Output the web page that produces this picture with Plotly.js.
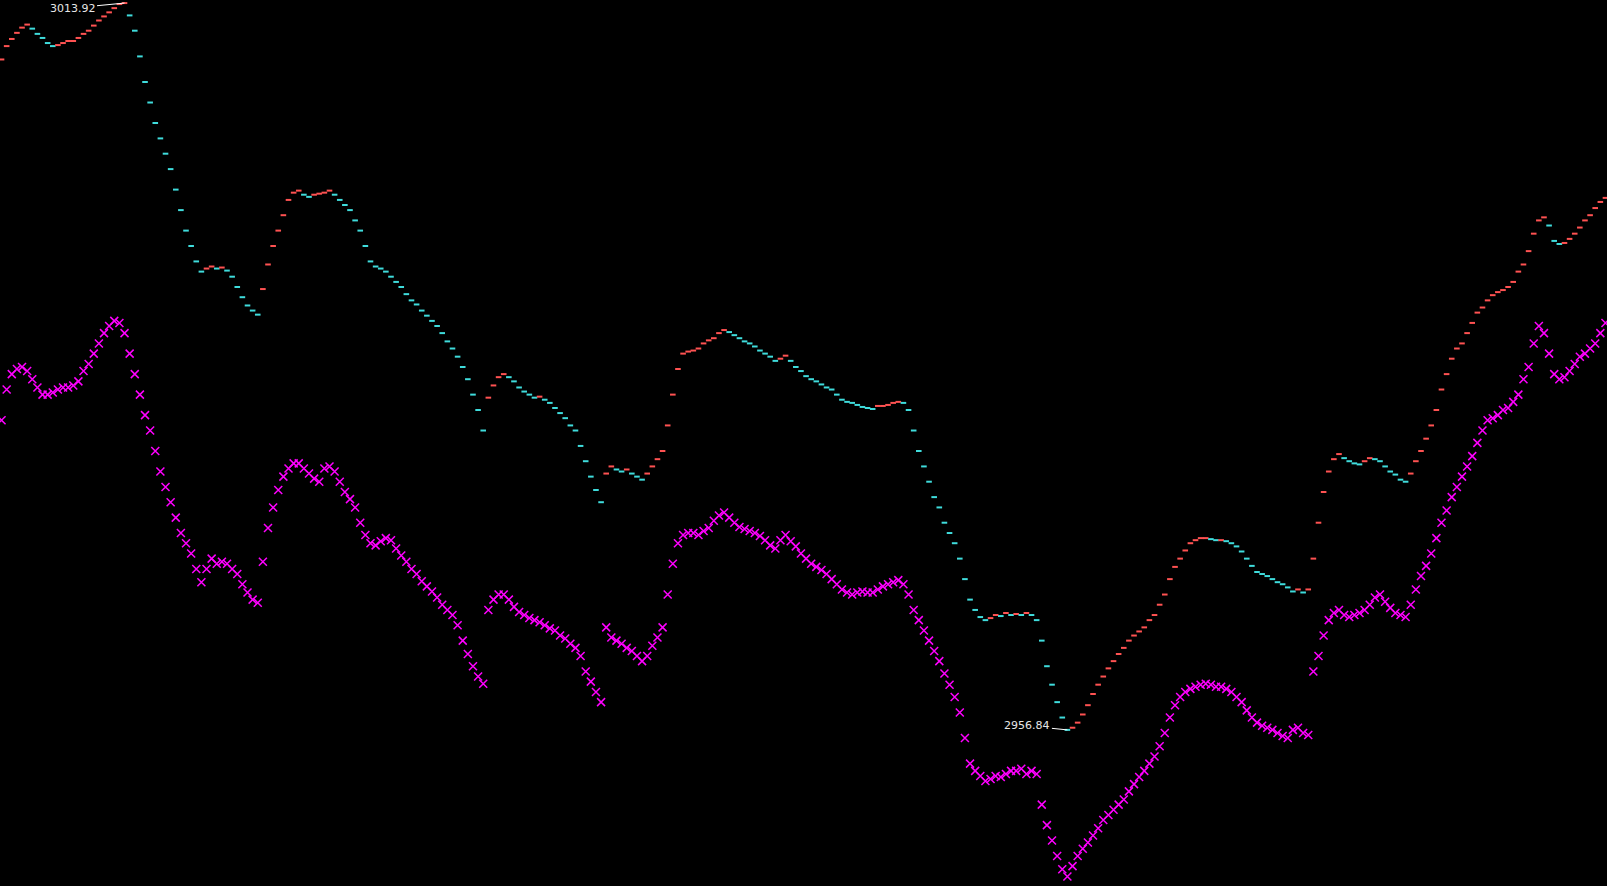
<!DOCTYPE html>
<html>
<head>
<meta charset="utf-8">
<script src="https://cdn.plot.ly/plotly-3.0.1.min.js"></script>
<style>html,body{margin:0;padding:0;background:#000;overflow:hidden}#chart{width:1607px;height:886px}</style>
</head>
<body>
<div id="chart"></div>
<script>
// Closing price per bar
const price = [
3009.49,3010.54,3011.10,3011.58,3011.99,3012.23,3011.91,3011.50,3011.18,3010.78,
3010.54,3010.62,3010.78,3010.94,3010.94,3011.18,3011.50,3011.75,3012.15,3012.55,
3012.87,3013.19,3013.52,3013.84,3013.92,3012.95,3011.75,3009.73,3007.72,3006.11,
3004.50,3003.29,3002.09,3000.88,2999.27,2997.66,2996.05,2994.84,2993.63,2992.83,
2993.07,2993.23,2993.07,2993.15,2992.91,2992.43,2991.62,2990.82,2990.17,2989.77,
2989.45,2991.46,2993.39,2994.84,2996.05,2997.26,2998.46,2999.03,2999.19,2998.87,
2998.70,2998.87,2998.95,2999.03,2999.19,2998.87,2998.46,2998.06,2997.66,2996.85,
2996.05,2994.84,2993.63,2993.23,2993.07,2992.83,2992.43,2992.02,2991.62,2991.06,
2990.57,2990.25,2989.77,2989.37,2988.96,2988.56,2988.00,2987.35,2986.79,2986.15,
2985.34,2984.38,2983.17,2981.96,2980.35,2982.93,2983.89,2984.54,2984.78,2984.54,
2984.21,2983.73,2983.41,2983.17,2982.93,2983.01,2982.77,2982.52,2982.12,2981.72,
2981.32,2980.75,2980.35,2979.14,2977.94,2976.73,2975.68,2974.72,2976.97,2977.53,
2977.29,2977.13,2977.29,2976.97,2976.73,2976.49,2976.97,2977.53,2978.10,2978.74,
2980.75,2983.17,2985.18,2986.39,2986.55,2986.63,2986.79,2987.19,2987.43,2987.60,
2988.00,2988.24,2988.08,2987.84,2987.60,2987.35,2987.19,2986.95,2986.63,2986.39,
2986.15,2985.82,2985.99,2986.23,2985.82,2985.34,2985.02,2984.62,2984.38,2984.21,
2983.97,2983.73,2983.57,2983.17,2982.77,2982.60,2982.52,2982.36,2982.20,2982.12,
2982.04,2982.28,2982.28,2982.36,2982.52,2982.60,2982.52,2981.96,2980.35,2978.74,
2977.53,2976.33,2975.12,2974.31,2973.11,2972.30,2971.50,2970.29,2968.68,2967.07,
2966.26,2965.70,2965.46,2965.62,2965.86,2965.78,2966.02,2965.86,2965.94,2965.86,
2966.02,2965.86,2965.46,2963.85,2961.84,2960.39,2959.02,2957.81,2956.84,2957.01,
2957.41,2958.05,2958.78,2959.66,2960.39,2961.03,2961.67,2962.24,2962.80,2963.28,
2963.85,2964.25,2964.57,2964.89,2965.46,2965.86,2966.67,2967.47,2968.68,2969.64,
2970.29,2970.93,2971.50,2971.74,2971.90,2971.90,2971.82,2971.74,2971.74,2971.66,
2971.50,2971.25,2970.85,2970.29,2969.72,2969.24,2969.08,2968.92,2968.68,2968.44,
2968.28,2968.03,2967.71,2967.87,2967.63,2967.87,2970.29,2973.11,2975.52,2977.13,
2978.10,2978.50,2978.18,2977.94,2977.77,2977.69,2977.94,2978.18,2978.10,2977.94,
2977.53,2977.13,2976.89,2976.49,2976.33,2976.97,2977.94,2978.74,2979.71,2980.75,
2981.96,2983.57,2984.78,2985.99,2986.79,2987.19,2988.00,2988.80,2989.61,2990.01,
2990.57,2990.98,2991.22,2991.38,2991.62,2992.02,2992.83,2993.39,2994.44,2995.81,
2996.85,2997.09,2996.45,2995.24,2995.00,2995.08,2995.40,2995.81,2996.29,2996.85,
2997.26,2997.82,2998.30,2998.62
];

// Magenta indicator value per bar
const indicator = [
2981.16,2983.57,2984.78,2985.18,2985.34,2985.02,2984.38,2983.73,2983.17,2983.17,
2983.33,2983.57,2983.73,2983.73,2983.89,2984.21,2985.02,2985.58,2986.39,2987.19,
2988.00,2988.56,2988.96,2988.80,2988.00,2986.39,2984.78,2983.17,2981.56,2980.35,
2978.74,2977.13,2975.92,2974.72,2973.51,2972.30,2971.50,2970.69,2969.48,2968.44,
2969.48,2970.29,2969.89,2970.05,2969.89,2969.48,2969.08,2968.28,2967.63,2967.07,
2966.83,2970.05,2972.70,2974.31,2975.68,2976.73,2977.37,2977.77,2977.77,2977.37,
2976.97,2976.57,2976.33,2977.37,2977.53,2977.13,2976.33,2975.52,2974.96,2974.31,
2973.11,2972.14,2971.50,2971.33,2971.66,2971.90,2971.74,2971.09,2970.53,2970.05,
2969.48,2969.08,2968.52,2968.11,2967.71,2967.23,2966.67,2966.26,2965.86,2965.06,
2963.85,2962.80,2961.84,2961.03,2960.47,2966.26,2967.07,2967.47,2967.47,2967.07,
2966.50,2966.10,2965.86,2965.62,2965.46,2965.30,2965.06,2964.81,2964.65,2964.25,
2964.01,2963.61,2963.28,2962.64,2961.43,2960.63,2959.82,2959.02,2964.89,2964.09,
2963.85,2963.61,2963.28,2963.04,2962.64,2962.24,2962.64,2963.45,2964.09,2964.89,
2967.47,2969.89,2971.50,2972.14,2972.30,2972.30,2972.14,2972.46,2972.70,2973.27,
2973.67,2973.91,2973.51,2973.11,2972.78,2972.62,2972.46,2972.30,2972.06,2971.74,
2971.33,2971.09,2971.74,2972.14,2971.66,2971.25,2970.69,2970.29,2969.89,2969.64,
2969.40,2969.08,2968.68,2968.28,2967.87,2967.63,2967.47,2967.63,2967.71,2967.63,
2967.63,2967.87,2968.11,2968.28,2968.44,2968.60,2968.28,2967.47,2966.26,2965.46,
2964.65,2963.85,2963.04,2962.24,2961.27,2960.39,2959.42,2958.21,2956.20,2954.19,
2953.62,2953.22,2952.82,2952.98,2953.22,2953.14,2953.38,2953.62,2953.62,2953.79,
2953.38,2953.62,2953.38,2950.97,2949.36,2948.15,2946.94,2945.90,2945.33,2946.14,
2946.94,2947.51,2947.99,2948.55,2949.12,2949.76,2950.16,2950.57,2950.97,2951.37,
2952.01,2952.58,2953.14,2953.62,2954.19,2954.75,2955.56,2956.60,2957.81,2958.78,
2959.42,2959.82,2960.06,2960.23,2960.39,2960.47,2960.39,2960.23,2960.23,2960.06,
2959.82,2959.42,2959.02,2958.37,2957.81,2957.41,2957.17,2957.01,2956.84,2956.60,
2956.36,2956.20,2956.84,2957.01,2956.60,2956.44,2961.43,2962.64,2964.25,2965.46,
2966.02,2966.26,2965.86,2965.70,2965.86,2966.02,2966.26,2966.67,2967.23,2967.47,
2966.91,2966.42,2966.02,2965.86,2965.70,2966.67,2967.87,2968.92,2969.72,2970.69,
2971.90,2973.11,2974.07,2975.12,2975.92,2976.73,2977.53,2978.34,2979.38,2980.35,
2981.16,2981.32,2981.56,2981.96,2982.12,2982.60,2983.17,2984.38,2985.34,2987.19,
2988.56,2988.00,2986.39,2984.78,2984.38,2984.54,2985.02,2985.58,2986.15,2986.39,
2986.79,2987.19,2988.00,2988.80
];

const highLabel = "3013.92";
const lowLabel = "2956.84";

const bars = price.map((_, i) => i);
const upColor = "#ff5252", downColor = "#3fdcdc";
const barColors = price.map((v, i) => (i === 0 || v >= price[i - 1]) ? upColor : downColor);

const hi = price.indexOf(Math.max(...price));
const lo = price.indexOf(Math.min(...price));

const traces = [
  {
    type: "scatter", mode: "markers", x: bars, y: indicator,
    marker: {symbol: "x-thin", size: 8, color: "#ff00ff", line: {width: 1.5, color: "#ff00ff"}},
    hoverinfo: "skip", showlegend: false
  },
  {
    type: "scatter", mode: "markers", x: bars, y: price,
    marker: {symbol: "line-ew", size: 4, line: {width: 2, color: barColors}},
    hoverinfo: "skip", showlegend: false
  }
];

const labelFont = {family: "DejaVu Sans, sans-serif", size: 11, color: "#e6e6e6"};
const layout = {
  width: 1607, height: 886,
  margin: {l: 0, r: 0, t: 0, b: 0, pad: 0},
  paper_bgcolor: "#000000", plot_bgcolor: "#000000",
  showlegend: false,
  xaxis: {range: [-0.3, 313.3], visible: false, showgrid: false, zeroline: false},
  yaxis: {range: [2944.58, 3014.16], visible: false, showgrid: false, zeroline: false},
  annotations: [
    {x: bars[hi], y: price[hi], xref: "x", yref: "y", text: highLabel, showarrow: true,
     arrowhead: 0, arrowwidth: 1, arrowcolor: "#ffffff", ax: -52, ay: 5, font: labelFont, standoff: 0},
    {x: bars[lo], y: price[lo], xref: "x", yref: "y", text: lowLabel, showarrow: true,
     arrowhead: 0, arrowwidth: 1, arrowcolor: "#ffffff", ax: -40, ay: -4, font: labelFont, standoff: 0}
  ]
};

Plotly.newPlot("chart", traces, layout, {displayModeBar: false, staticPlot: true});
</script>
</body>
</html>
